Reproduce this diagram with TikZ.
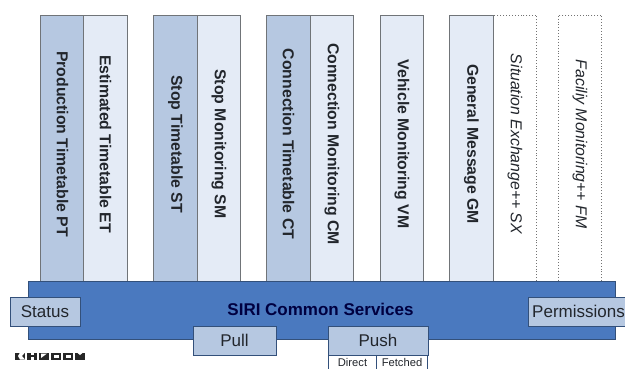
\documentclass[tikz,border=0pt]{standalone}
\usepackage{fontspec}
\setmainfont{Liberation Sans}
\definecolor{dkcol}{HTML}{B6C8E1}
\definecolor{ltcol}{HTML}{E4EBF6}
\definecolor{barblue}{HTML}{4A79BF}
\definecolor{edgegray}{HTML}{707478}
\definecolor{edgeblue}{HTML}{33507A}
\definecolor{txt}{HTML}{22262C}
\newcommand{\cl}[1]{#1\hspace*{8pt}}
\tikzset{
 x=1pt,y=-1pt,
 colbase/.style={draw=edgegray,line width=0.9pt,rotate=-90,anchor=center,inner sep=0pt,minimum width=266pt,minimum height=43.5pt,text=txt,font=\fontsize{15.8}{18}\selectfont\bfseries},
 coldark/.style={colbase,fill=dkcol},
 collight/.style={colbase,fill=ltcol},
 coldot/.style={colbase,draw=gray!90!black,dotted,fill=white,font=\fontsize{15.8}{18}\selectfont\itshape},
 tabbox/.style={draw=edgeblue,line width=0.9pt,fill=dkcol,inner sep=0pt,text=txt,font=\fontsize{17}{20}\selectfont},
 smallbox/.style={draw=edgeblue,line width=0.7pt,fill=white,inner sep=0pt,text=txt,font=\fontsize{11.2}{13}\selectfont},
 logoblk/.style={fill=black!85,draw=none}
}
\begin{document}
\begin{tikzpicture}
\useasboundingbox (0,0) rectangle (625,369);
\node[coldark]  (pt) at (62.5,148) {\cl{Production Timetable PT}};
\node[collight] (et) at (105.5,148) {\cl{Estimated Timetable ET}};
\node[coldark]  (st) at (175.5,148) {\cl{Stop Timetable ST}};
\node[collight] (sm) at (219,148) {\cl{Stop Monitoring SM}};
\node[coldark]  (ct) at (288.5,148) {\cl{Connection Timetable CT}};
\node[collight] (cm) at (332,148) {\cl{Connection Monitoring CM}};
\node[collight] (vm) at (402,148) {\cl{Vehicle Monitoring VM}};
\node[coldot]   (sx) at (515,148) {\cl{Situation Exchange++ SX}};
\node[collight] (gm) at (471.5,148) {\cl{General Message GM}};
\node[coldot]   (fm) at (580,148) {\cl{Faciliy Monitoring++ FM}};
\node[draw=edgeblue,line width=0.9pt,fill=barblue,inner sep=0pt,minimum width=587pt,minimum height=58pt] (bar) at (321.5,310) {};
\node[text=blue!25!black,font=\fontsize{17}{20}\selectfont\bfseries] (bartext) at (320.5,309.5) {SIRI Common Services};
\node[tabbox,minimum width=70pt,minimum height=29pt] (status) at (45,311.5) {Status};
\node[tabbox,minimum width=83pt,minimum height=29pt] (pull) at (234.5,340.5) {Pull};
\node[tabbox,minimum width=100pt,minimum height=29pt] (push) at (378,340.5) {Push};
\node[smallbox,minimum width=49pt,minimum height=15pt] (direct) at (352.5,362.5) {Direct};
\node[smallbox,minimum width=51pt,minimum height=15pt] (fetched) at (402,362.5) {Fetched};
\begin{scope}
\clip (0,0) rectangle (625,369);
\node[tabbox,minimum width=99pt,minimum height=29pt] (perm) at (577.5,311.5) {\hspace*{2pt}Permissions};
\end{scope}
% logo
\foreach \lx in {15,27,39,51,63,75}{\fill[logoblk] (\lx,352.5) rectangle ++(10,7);}
\fill[white] (20,352.5) -- (25,352.5) -- (22,356) -- (25,359.5) -- (20,359.5) -- (18,356) -- cycle;
\fill[white] (30.5,352.5) rectangle (33.5,354.8);
\fill[white] (30.5,357.2) rectangle (33.5,359.5);
\fill[white] (41,358) -- (47,353.5) -- (41,353.5) -- cycle;
\fill[white] (53.5,354.5) rectangle (58.5,357.5);
\fill[white] (65.5,354.5) rectangle (70.5,357.5);
\fill[white] (77,352.5) -- (80,355) -- (83,352.5) -- cycle;
\end{tikzpicture}
\end{document}
